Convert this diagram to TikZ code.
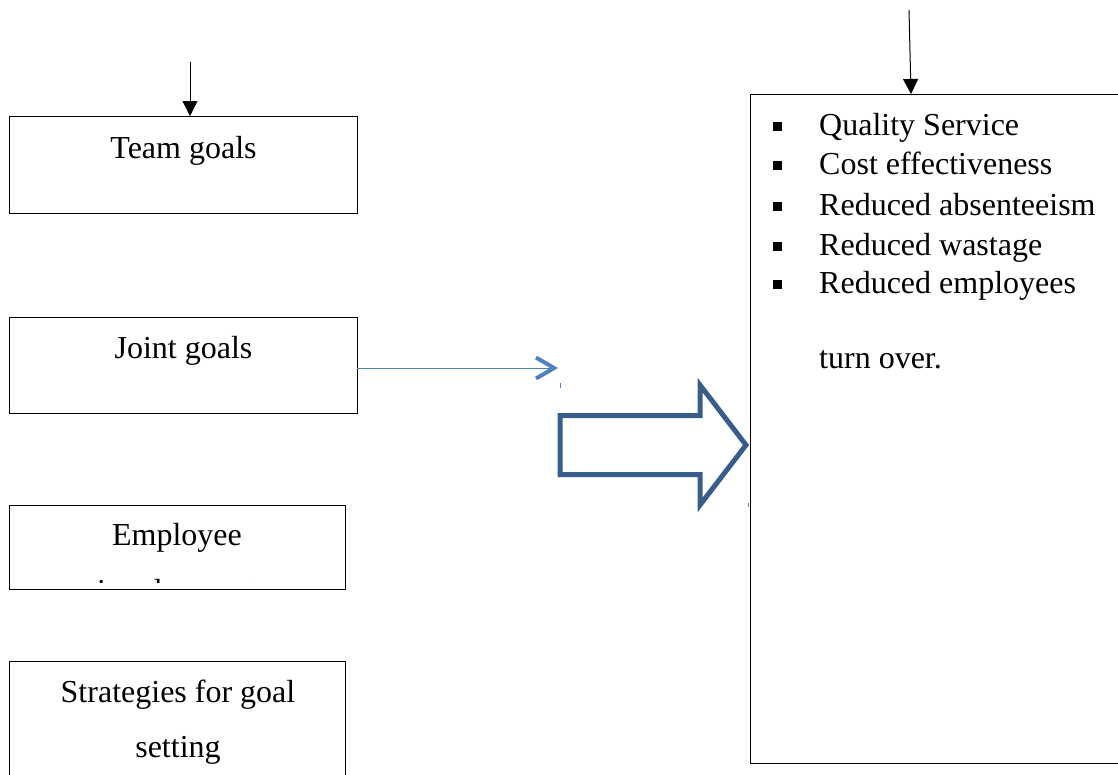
\documentclass[tikz,border=0pt]{standalone}
\usepackage{fontspec}
\setmainfont{Liberation Serif}
\usetikzlibrary{arrows.meta}
\definecolor{lightblue}{RGB}{79,129,189}
\definecolor{darkblue}{RGB}{56,93,138}
\begin{document}
\begin{tikzpicture}[x=1pt,y=-1pt,
  box/.style={draw=black,line width=1.1pt,rectangle,inner sep=0pt,anchor=north west},
  txt/.style={anchor=base,inner sep=0pt,font=\fontsize{32}{38}\selectfont},
  ltxt/.style={anchor=base west,inner sep=0pt,font=\fontsize{32}{38}\selectfont},
  bullet/.style={fill=black,minimum size=9pt,inner sep=0pt,rectangle},
  feed/.style={line width=1pt,-{Triangle[length=15pt,width=15pt]}}]
\useasboundingbox (0,0) rectangle (1118,774);
\clip (0,0) rectangle (1118,774);
% left boxes
\node[box,minimum width=348pt,minimum height=97pt] (team) at (9,116) {};
\node[box,minimum width=348pt,minimum height=96pt] (joint) at (9,317) {};
\node[box,minimum width=336pt,minimum height=84pt] (emp) at (9,505) {};
\node[box,minimum width=336pt,minimum height=140pt] (strat) at (9,661) {};
\node[txt] (teamt) at (183.5,158) {Team goals};
\node[txt] (jointt) at (183.5,358) {Joint goals};
\node[txt] (empt) at (177,545) {Employee};
\begin{scope}
\clip (9,560) rectangle (345,582);
\node[txt] (empt2) at (177,601) {involvement};
\end{scope}
\node[txt] (stratt) at (178,702) {Strategies for goal};
\node[txt] (stratt2) at (178,757) {setting};
% right box
\node[box,minimum width=400pt,minimum height=669pt] (out) at (750,94) {};
\foreach \y/\t [count=\i] in {135/Quality Service,174/Cost effectiveness,215/Reduced absenteeism,255/Reduced wastage,293/Reduced employees}{
  \node[bullet] (b\i) at (777.5,\y-8.5) {};
  \node[ltxt] (l\i) at (819,\y) {\t};
}
\node[ltxt] (l6) at (819,368) {turn over.};
% incoming arrows
\coordinate (t1) at (190,62);
\coordinate (t1e) at (190,116);
\draw[feed] (t1) -- (t1e);
\coordinate (t2) at (909,10);
\coordinate (t2e) at (911,94);
\draw[feed] (t2) -- (t2e);
% thin blue connector
\coordinate (j1) at (357,368);
\coordinate (j2) at (558,368);
\draw[lightblue,line width=1pt,-{Straight Barb[length=18pt,width=21pt,line width=4pt]}] (j1) -- (j2);
% tiny marks
\draw[lightblue,line width=1pt] (560,383) -- (560,388);
\draw[lightblue,line width=1pt] (748,503) -- (748,507);
% block arrow
\draw[darkblue,line width=5pt,miter limit=10] (560,415.5) -- (700,415.5) -- (700,385) -- (746,445) -- (700,505) -- (700,474.5) -- (560,474.5) -- cycle;
\end{tikzpicture}
\end{document}
